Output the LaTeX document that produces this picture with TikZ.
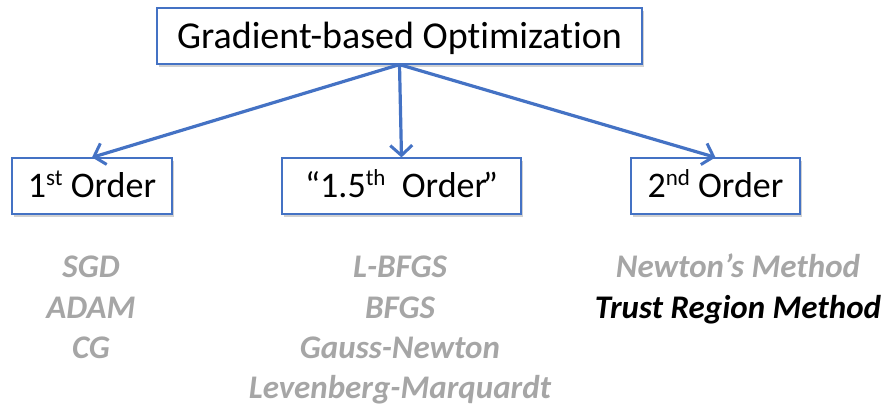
\documentclass[tikz,border=0pt]{standalone}
\usepackage{fontspec}
\setmainfont{Carlito}[Ligatures=NoCommon]
\usetikzlibrary{arrows.meta,shadows}
\definecolor{linkblue}{HTML}{4472C4}
\definecolor{softgray}{HTML}{A6A6A6}
\newcommand\upscript[1]{\raisebox{0.34em}{\fontsize{23}{23}\selectfont #1}}
\tikzset{
  catbox/.style={draw=linkblue, line width=1.2pt, fill=white,
    minimum height=56pt, text height=23pt, text depth=0pt, inner sep=0pt,
    drop shadow={shadow xshift=2pt, shadow yshift=-3pt, opacity=0.3, fill=black!60},
    font=\fontsize{36}{40}\selectfont},
  link/.style={draw=linkblue, line width=3.2pt,
    -{Straight Barb[length=10pt, width=22pt, line width=3pt]}},
  method/.style={anchor=base, inner sep=0pt, text=softgray,
    font=\fontsize{33}{38}\selectfont\bfseries\itshape},
}
\begin{document}
\begin{tikzpicture}[x=1pt, y=-1pt]
  \useasboundingbox (0,0) rectangle (889,406);

  % root and the three branches
  \node[catbox, minimum width=485pt, text height=24.5pt,
        font=\fontsize{38}{44}\selectfont]
    (root) at (399.5,36) {Gradient-based Optimization};
  \node[catbox, minimum width=160pt] (first) at (92,186)
    {1\upscript{st} Order};
  \node[catbox, minimum width=239pt] (mid) at (401.5,186)
    {“1.5\upscript{th}\ \ Order\kern-0.12em”};
  \node[catbox, minimum width=169pt] (second) at (715.5,186)
    {2\upscript{nd} Order};

  \draw[link] (root.south) -- (first.north);
  \draw[link] (root.south) -- (mid.north);
  \draw[link] (root.south) -- (second.north);

  % first-order methods
  \node[method] (sgd)  at (91,277) {SGD};
  \node[method] (adam) at (91,318) {ADAM};
  \node[method] (cg)   at (91,358) {CG};

  % quasi-Newton style methods
  \node[method] (lbfgs) at (400,277) {L-BFGS};
  \node[method] (bfgs)  at (400,318) {BFGS};
  \node[method] (gn)    at (400,358) {Gauss-Newton};
  \node[method] (lm)    at (400,398) {Levenberg-Marquardt};

  % second-order methods
  \node[method] (newton) at (738,277) {Newton’s Method};
  \node[method, text=black] (trust) at (738,318) {Trust Region Method};
\end{tikzpicture}
\end{document}
